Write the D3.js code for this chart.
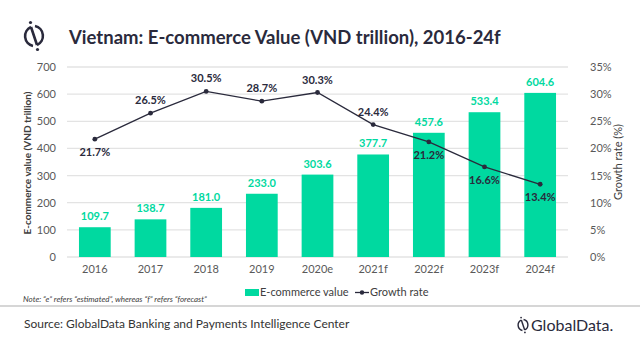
<!DOCTYPE html>
<html>
<head>
<meta charset="utf-8">
<script src="https://cdn.jsdelivr.net/npm/d3@7"></script>
<style>
  body { margin: 0; background: #fff; }
  svg { font-family: Lato, "Open Sans", sans-serif; }
</style>
</head>
<body>
<svg id="chart" width="640" height="342"></svg>
<script>
const years = ["2016", "2017", "2018", "2019", "2020e", "2021f", "2022f", "2023f", "2024f"];
const values = [109.7, 138.7, 181.0, 233.0, 303.6, 377.7, 457.6, 533.4, 604.6];
const growth = [21.7, 26.5, 30.5, 28.7, 30.3, 24.4, 21.2, 16.6, 13.4];
// label above (true) or below (false) the point
const growthAbove = [false, true, true, true, true, true, false, false, false];
const leftTicks = [0, 100, 200, 300, 400, 500, 600, 700];
const rightTicks = [0, 5, 10, 15, 20, 25, 30, 35];

const green = "#00d9a0";
const navy = "#2a2a3c";

const svg = d3.select("#chart");
const plot = { left: 67, right: 568, top: 67, bottom: 257 };

//scales
const x = d3.scaleBand().domain(years).range([plot.left, plot.right]).paddingInner(0.43).paddingOuter(0.215);
const yL = d3.scaleLinear().domain([0, 700]).range([plot.bottom, plot.top]);
const yR = d3.scaleLinear().domain([0, 35]).range([plot.bottom, plot.top]);

//gridlines
svg.append("g").selectAll("line")
  .data(leftTicks)
  .enter()
  .append("line")
  .attr("x1", plot.left).attr("x2", plot.right)
  .attr("y1", d => yL(d)).attr("y2", d => yL(d))
  .attr("stroke", "#e3e3e3").attr("stroke-width", 1.3);

//axes
const axisL = svg.append("g")
  .attr("transform", `translate(${plot.left},0)`)
  .call(d3.axisLeft(yL).tickValues(leftTicks).tickSize(0).tickPadding(11));
const axisR = svg.append("g")
  .attr("transform", `translate(${plot.right + 10},0)`)
  .call(d3.axisRight(yR).tickValues(rightTicks).tickSize(0).tickPadding(12).tickFormat(d => d + "%"));
const axisB = svg.append("g")
  .attr("transform", `translate(0,${plot.bottom})`)
  .call(d3.axisBottom(x).tickSize(0).tickPadding(8));
[axisL, axisR, axisB].forEach(g => {
  g.select(".domain").remove();
  g.selectAll("text").attr("font-size", 11).attr("fill", "#595959").attr("font-family", "Lato, sans-serif");
});

//bars
svg.append("g").selectAll("rect")
  .data(values)
  .enter()
  .append("rect")
  .attr("x", (d, i) => x(years[i]))
  .attr("width", x.bandwidth())
  .attr("y", d => yL(d))
  .attr("height", d => plot.bottom - yL(d))
  .attr("fill", green);

svg.append("g").selectAll("text")
  .data(values)
  .enter()
  .append("text")
  .attr("x", (d, i) => x(years[i]) + x.bandwidth() / 2)
  .attr("y", d => yL(d) - 7)
  .attr("text-anchor", "middle")
  .attr("font-size", 11).attr("font-weight", "bold")
  .attr("fill", green)
  .text(d => d.toFixed(1));

//growth line
const cx = (d, i) => x(years[i]) + x.bandwidth() / 2;
svg.append("path")
  .datum(growth)
  .attr("fill", "none").attr("stroke", navy).attr("stroke-width", 1.3)
  .attr("d", d3.line().x(cx).y(d => yR(d)));
svg.append("g").selectAll("circle")
  .data(growth)
  .enter()
  .append("circle")
  .attr("cx", cx).attr("cy", d => yR(d)).attr("r", 2.4)
  .attr("fill", navy);
svg.append("g").selectAll("text")
  .data(growth)
  .enter()
  .append("text")
  .attr("x", cx)
  .attr("y", (d, i) => growthAbove[i] ? yR(d) - 9 : yR(d) + 17)
  .attr("text-anchor", "middle")
  .attr("font-size", 11).attr("font-weight", "bold")
  .attr("fill", navy)
  .text(d => d.toFixed(1) + "%");

//axis titles
svg.append("text")
  .attr("transform", `translate(31,163) rotate(-90)`)
  .attr("text-anchor", "middle")
  .attr("font-size", 10).attr("font-weight", "bold").attr("fill", "#404040")
  .text("E-commerce value (VND trillion)");
svg.append("text")
  .attr("transform", `translate(622,${(plot.top + plot.bottom) / 2}) rotate(-90)`)
  .attr("text-anchor", "middle")
  .attr("font-size", 11).attr("fill", "#404040")
  .text("Growth rate (%)");

//legend
const legend = svg.append("g").attr("font-size", 11).attr("fill", "#404040");
legend.append("rect").attr("x", 245).attr("y", 289).attr("width", 14).attr("height", 7).attr("fill", green);
legend.append("text").attr("x", 260).attr("y", 296).text("E-commerce value");
legend.append("line").attr("x1", 355).attr("x2", 369).attr("y1", 292.5).attr("y2", 292.5).attr("stroke", navy).attr("stroke-width", 1.3);
legend.append("circle").attr("cx", 362).attr("cy", 292.5).attr("r", 2.2).attr("fill", navy);
legend.append("text").attr("x", 370).attr("y", 296).text("Growth rate");

//note, separator, source
svg.append("text")
  .attr("x", 23).attr("y", 302)
  .attr("font-size", 8).attr("font-style", "italic").attr("fill", "#404040")
  .text("Note: \u201ce\u201d refers \u201cestimated\u201d, whereas \u201cf\u201d refers \u201cforecast\u201d");
svg.append("line").attr("x1", 0).attr("x2", 640).attr("y1", 306).attr("y2", 306)
  .attr("stroke", "#c8c8c8").attr("stroke-width", 1.5);
svg.append("text")
  .attr("x", 24).attr("y", 328)
  .attr("font-size", 12).attr("fill", "#333")
  .text("Source: GlobalData Banking and Payments Intelligence Center");

//logo icon
function logo(g, s) {
  g.append("path")
    .attr("d", `M${-3 * s},${-9 * s} A${10 * s},${10 * s} 0 0 0 ${-1 * s},${9.9 * s}`)
    .attr("fill", "none").attr("stroke", navy).attr("stroke-width", 2.6 * s);
  g.append("path")
    .attr("d", `M${3 * s},${9 * s} A${10 * s},${10 * s} 0 0 0 ${1 * s},${-9.9 * s}`)
    .attr("fill", "none").attr("stroke", navy).attr("stroke-width", 2.6 * s);
  g.append("line")
    .attr("x1", -3 * s).attr("y1", -9 * s).attr("x2", 3 * s).attr("y2", 9 * s)
    .attr("stroke", navy).attr("stroke-width", 2.6 * s);
  g.append("circle").attr("cx", -3.5 * s).attr("cy", -13.5 * s).attr("r", 1.6 * s).attr("fill", navy);
  g.append("circle").attr("cx", 3.5 * s).attr("cy", 13.5 * s).attr("r", 1.6 * s).attr("fill", navy);
}
logo(svg.append("g").attr("transform", "translate(34,36)"), 1);
logo(svg.append("g").attr("transform", "translate(523,325)"), 0.55);

svg.append("text")
  .attr("x", 69).attr("y", 44)
  .attr("font-size", 18.5).attr("font-weight", "bold").attr("fill", navy)
  .text("Vietnam: E-commerce  Value (VND trillion), 2016-24f");
svg.append("text")
  .attr("x", 531).attr("y", 331)
  .attr("font-size", 16).attr("fill", navy).attr("font-family", "Lato, sans-serif")
  .text("GlobalData.");
</script>
</body>
</html>
